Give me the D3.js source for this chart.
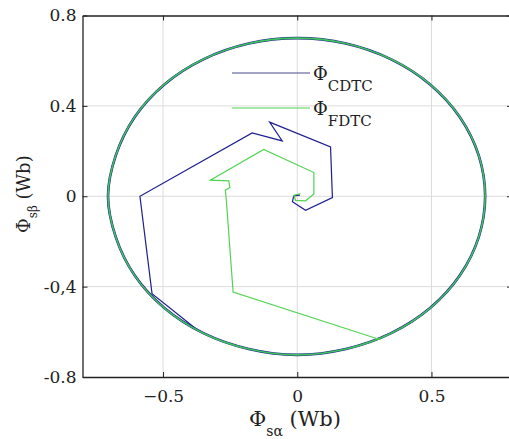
<!DOCTYPE html>
<html>
<head>
<meta charset="utf-8">
<script src="https://cdn.jsdelivr.net/npm/d3@7"></script>
<style>
  body { margin: 0; background: #fff; }
  svg { display: block; overflow: hidden; }
  .axis path, .axis line { stroke: #222; }
</style>
</head>
<body>
<script>
// tick values / labels
var xTicks = [-0.5, 0, 0.5];
var yTicks = [-0.8, -0.4, 0, 0.4, 0.8];
var yTickLabels = ["-0.8", "-0,4", "0", "0.4", "0.8"];

// flux trajectories (alpha, beta) in Wb
var cdtcStart = [[0.010, 0.005], [-0.013, 0.002], [-0.018, -0.024], [0.031, -0.062],
  [0.131, -0.006], [0.124, 0.218], [-0.103, 0.328], [-0.056, 0.245], [-0.168, 0.280],
  [-0.586, 0.000], [-0.541, -0.431], [-0.373, -0.591]];
var fdtcStart = [[0.012, 0.012], [-0.013, 0.004], [-0.006, -0.018], [0.031, -0.020],
  [0.062, 0.010], [0.062, 0.105], [-0.125, 0.207], [-0.324, 0.071], [-0.255, 0.068],
  [-0.251, 0.039], [-0.268, 0.027], [-0.264, -0.020], [-0.239, -0.424], [0.310, -0.635]];

// steady state circle, points read around the loop
var steadyLoop = [[0.700, 0.000], [0.676, 0.181], [0.606, 0.350], [0.495, 0.495],
  [0.350, 0.606], [0.181, 0.676], [0.000, 0.700], [-0.181, 0.676], [-0.350, 0.606],
  [-0.495, 0.495], [-0.606, 0.350], [-0.676, 0.181], [-0.705, 0.000], [-0.676, -0.181],
  [-0.606, -0.350], [-0.495, -0.495], [-0.350, -0.606], [-0.181, -0.676], [0.000, -0.702],
  [0.181, -0.676], [0.350, -0.606], [0.495, -0.495], [0.606, -0.350], [0.676, -0.181]];

var svg_width = 509, svg_height = 439;
var margin = {top: 15.5, right: -3, bottom: 62, left: 82.5},
    width = svg_width - margin.left - margin.right,
    height = svg_height - margin.top - margin.bottom;

var serif = "'DejaVu Serif', serif";
var blue = "#1f1f8f", green = "#52d452";

var svg = d3.select("body").append("svg")
    .attr("width", svg_width)
    .attr("height", svg_height);
var g = svg.append("g").attr("transform", "translate(" + margin.left + "," + margin.top + ")");

var x = d3.scaleLinear().domain([-0.8, 0.8]).range([0, width]);
var y = d3.scaleLinear().domain([-0.8, 0.8]).range([height, 0]);

// grid
g.append("g").selectAll("line").data(xTicks).enter().append("line")
    .attr("x1", d => x(d)).attr("x2", d => x(d))
    .attr("y1", 0).attr("y2", height)
    .attr("stroke", "#dcdcdc").attr("stroke-width", 1);
g.append("g").selectAll("line").data(yTicks.slice(1, -1)).enter().append("line")
    .attr("y1", d => y(d)).attr("y2", d => y(d))
    .attr("x1", 0).attr("x2", width)
    .attr("stroke", "#dcdcdc").attr("stroke-width", 1);

var line = d3.line().x(d => x(d[0])).y(d => y(d[1]));
var loop = d3.line().x(d => x(d[0])).y(d => y(d[1])).curve(d3.curveCatmullRomClosed);

// CDTC (blue) underneath
g.append("path").datum(steadyLoop).attr("d", loop)
    .attr("fill", "none").attr("stroke", blue).attr("stroke-width", 2.6);
g.append("path").datum(cdtcStart).attr("d", line)
    .attr("fill", "none").attr("stroke", blue).attr("stroke-width", 1.2);

// FDTC (green) on top
g.append("path").datum(steadyLoop).attr("d", loop)
    .attr("fill", "none").attr("stroke", "#3fc45a").attr("stroke-width", 1.6);
g.append("path").datum(fdtcStart).attr("d", line)
    .attr("fill", "none").attr("stroke", green).attr("stroke-width", 1.2);

// axes, ticks pointing inward on all four sides
var xAxis = g.append("g").attr("class", "axis")
    .attr("transform", "translate(0," + height + ")")
    .call(d3.axisBottom(x).tickValues(xTicks).tickSize(-5).tickSizeOuter(0).tickPadding(13)
      .tickFormat(d3.format(".1~f")));
var yAxis = g.append("g").attr("class", "axis")
    .call(d3.axisLeft(y).tickValues(yTicks).tickSize(-5).tickSizeOuter(0).tickPadding(6)
      .tickFormat((d, i) => yTickLabels[i]));
g.append("g").attr("class", "axis")
    .call(d3.axisTop(x).tickValues(xTicks).tickSize(-5).tickSizeOuter(0).tickFormat(""));
g.append("g").attr("class", "axis")
    .attr("transform", "translate(" + width + ",0)")
    .call(d3.axisRight(y).tickValues(yTicks).tickSize(-5).tickSizeOuter(0).tickFormat(""));
g.selectAll(".axis .domain").attr("stroke-width", 1.3);
[xAxis, yAxis].forEach(a => a.attr("font-family", serif).attr("font-size", 17)
    .selectAll("text").attr("fill", "#222"));

// x axis label
var xl = svg.append("text").attr("x", 249).attr("y", 426)
    .attr("font-family", serif).attr("font-size", 21).attr("fill", "#222");
xl.append("tspan").text("\u03A6");
xl.append("tspan").attr("font-size", 14).attr("dy", 10).text("s\u03B1");
xl.append("tspan").attr("dy", -10).text("\u00A0(Wb)");

// y axis label
var yl = svg.append("text")
    .attr("transform", "translate(30,233) rotate(-90)")
    .attr("font-family", serif).attr("font-size", 18).attr("fill", "#222");
yl.append("tspan").text("\u03A6");
yl.append("tspan").attr("font-size", 12).attr("dy", 7).text("s\u03B2");
yl.append("tspan").attr("dy", -7).text("\u00A0(Wb)");

// legend
var legend = [{name: "CDTC", color: "#4a4a90", ly: 73}, {name: "FDTC", color: green, ly: 108}];
legend.forEach(function(d) {
  svg.append("line").attr("x1", 232).attr("x2", 310).attr("y1", d.ly).attr("y2", d.ly)
      .attr("stroke", d.color).attr("stroke-width", 1.2);
  var t = svg.append("text").attr("x", 313).attr("y", d.ly + 7)
      .attr("font-family", serif).attr("font-size", 18).attr("fill", "#222");
  t.append("tspan").text("\u03A6");
  t.append("tspan").attr("font-size", 15).attr("dy", 11).text(d.name);
});
</script>
</body>
</html>
